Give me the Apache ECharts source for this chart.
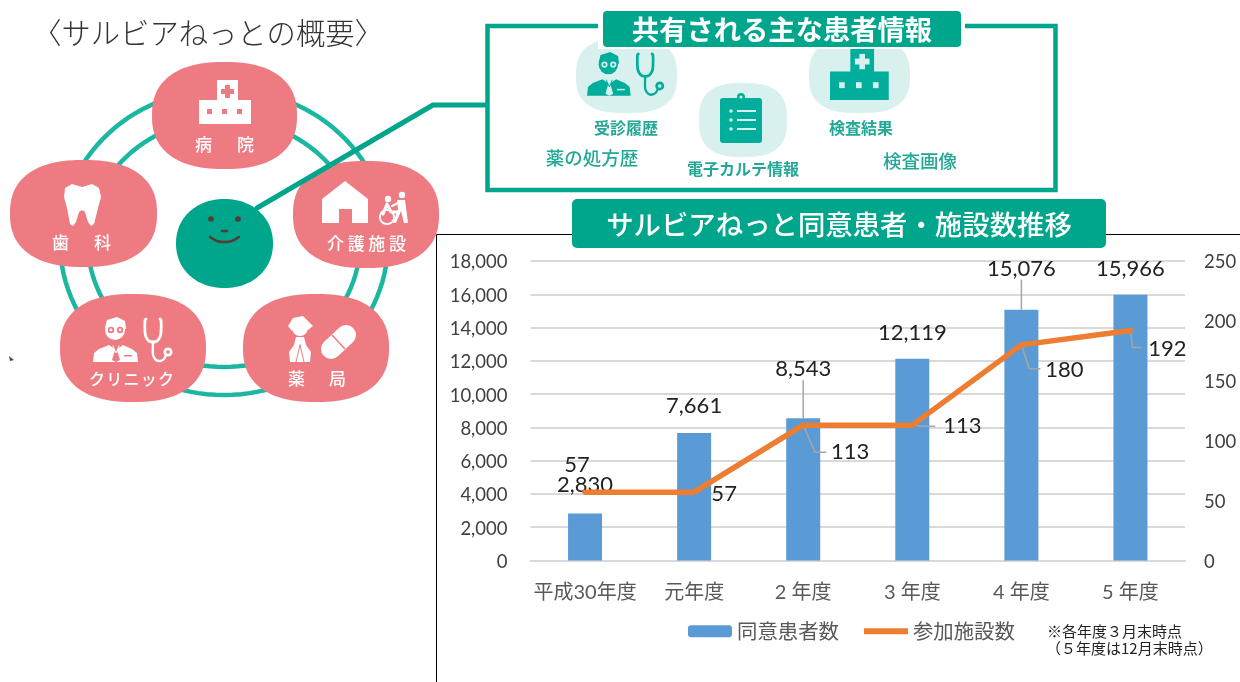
<!DOCTYPE html>
<html><head><meta charset="utf-8">
<style>html,body{margin:0;padding:0;background:#fff}#c{width:1240px;height:682px}</style>
<script src="https://cdn.jsdelivr.net/npm/echarts@6/dist/echarts.min.js"></script>
</head><body><div id="c"></div>
<script>
const categories = ['平成30年度','元年度','2 年度','3 年度','4 年度','5 年度'];
const patients = [2830,7661,8543,12119,15076,15966];
const facilities = [57,57,113,113,180,192];
const patientName = '同意患者数';
const facilityName = '参加施設数';
const patientNudges = [[0,-18],[0,-16],[0,-38],[0,-15],[0,-30],[0,-15]];
const facilityNudges = [[-8,-27],[30,2],[47,27],[50,1],[43,25],[37,18]];
const patientLeader = [false,false,true,false,true,false];
const facilityLeaders = [null,null,[[12,27],[23,27]],[[11,1],[23,1]],[[8,24],[19,24]],[[2,17],[11,17]]];

const JP = '"Noto Sans CJK JP"';
const TEAL = '#00A68C', PINK = '#EE7B82', ICON = '#00AE9B', PALE = '#D9F1EE', TXT = '#22A896';

function blobPts(x,y,w,h,n){
  const pts=[], a=w/2, b=h/2, cx=x+a, cy=y+b;
  for(let i=0;i<120;i++){
    const t=i/120*Math.PI*2, c=Math.cos(t), s=Math.sin(t);
    pts.push([cx+a*Math.sign(c)*Math.pow(Math.abs(c),2/n), cy+b*Math.sign(s)*Math.pow(Math.abs(s),2/n)]);
  }
  return pts;
}
const blob=(x,y,w,h,fill,n)=>({type:'polygon',shape:{points:blobPts(x,y,w,h,n||2.4)},style:{fill}});
const ring=(cx,cy,rx,ry,stroke,lw)=>({type:'polygon',shape:{points:blobPts(cx-rx,cy-ry,2*rx,2*ry,2)},style:{fill:'none',stroke,lineWidth:lw}});
const rect=(x,y,w,h,fill,r)=>({type:'rect',shape:{x,y,width:w,height:h,r:r||0},style:{fill}});
const dot=(cx,cy,r,fill)=>({type:'circle',shape:{cx,cy,r},style:{fill}});
const poly=(points,fill)=>({type:'polygon',shape:{points},style:{fill}});
const pl=(points,stroke,lw,smooth)=>({type:'polyline',shape:{points,smooth:smooth||0},style:{fill:'none',stroke,lineWidth:lw,lineCap:'round',lineJoin:'round'}});
const txt=(text,x,y,size,fill,weight)=>({type:'text',style:{text,x,y,fill,font:(weight||'normal')+' '+size+'px '+JP,textAlign:'center',textVerticalAlign:'middle'}});
function spaced(s,x0,x1,y,size,fill,weight){
  const ch=[...s], step=(x1-x0-size)/(ch.length-1);
  return ch.map((c,i)=>txt(c,x0+size/2+i*step,y,size,fill,weight));
}
function hospitalIcon(x,y,s,sy,fg,bg){
  return {type:'group',x,y,scaleX:s,scaleY:sy,children:[
    rect(18,0,21,21,fg),rect(0,20,52,24,fg),
    rect(26,5,5,13,bg),rect(22,9,13,5,bg),
    rect(8,29,5,5,bg),rect(23,29,5,5,bg),rect(38,29,5,5,bg)]};
}
function doctorIcon(x,y,s,fg,bg){
  return {type:'group',x,y,scaleX:s,scaleY:s,children:[
    poly([[0,45],[1,36],[6,32],[16,28],[23,33],[30,28],[39,32],[44,36],[45,45]],fg),
    dot(22,13,10,fg),poly([[12,11],[14,3],[24,0],[32,4],[33,12]],fg),
    dot(18,13,3.2,bg),dot(27,13,3.2,bg),dot(18,13,1.4,fg),dot(27,13,1.4,fg),
    poly([[20,28],[26,28],[24,33],[27,43],[23,45],[19,43],[22,33]],bg),
    pl([[20,29],[23,36],[26,29]],fg,1),
    rect(31,38,8,1.5,bg),
    pl([[53,2],[52,3],[52,15],[53,20],[56,24],[60,25],[64,24],[67,20],[68,15],[68,3],[67,2]],fg,2.8,0.2),
    pl([[60,25],[60,38],[63,43],[67,44],[71,42],[73,38]],fg,2.4,0.2),
    dot(75,35,4.6,fg),dot(75,35,1.8,bg)]};
}
function blobs(){
  return [blob(152,62,145,107,PINK),blob(10,160,147,107,PINK),blob(293,161,146,107,PINK),
          blob(60,294,146,108,PINK),blob(243,294,146,108,PINK)];
}
const W='#fff';
const graphicEls=[
  ring(224,242,164,153,'#1CB7A0',4.5),
  ring(224,243,136,124,'#1CB7A0',4.5),
  ...blobs(),
  hospitalIcon(199,80,1,1,W,PINK),
  ...spaced('病院',195,254,145,17,W,'500'),
  poly([[72,184],[82,187],[92,184],[99,188],[101,197],[98,208],[94,224],[91,226],[88,222],[85,212],[82,210],[79,212],[76,222],[73,226],[70,224],[67,208],[64,197],[65,188]],W),
  ...spaced('歯科',52,111,243,17,W,'500'),
  poly([[345,181],[368,199],[368,223],[352,223],[352,209],[339,209],[339,223],[322,223],[322,199]],W),
  dot(388,199,3.2,W),dot(402,195,3.2,W),
  pl([[383,214],[387,204],[391,212],[398,212]],W,3),
  ring(387,217,7,7,W,2),
  poly([[397,200],[405,200],[408,223],[404,223],[401,211],[396,223],[393,223],[398,209]],W),
  pl([[392,206],[398,203]],W,2),
  ...spaced('介護施設',327,406,244,17,W,'500'),
  doctorIcon(93,317,1,W,PINK),
  ...spaced('クリニック',89,174,379,16,W,'500'),
  dot(300,328,8,W),
  poly([[288,326],[293,318],[303,316],[313,326],[308,330],[302,323],[295,325],[292,331]],W),
  poly([[296,337],[304,337],[306,345],[311,352],[310,362],[290,362],[289,352],[294,345]],W),
  pl([[300,345],[296,362]],PINK,1),pl([[300,345],[304,362]],PINK,1),
  {type:'line',shape:{x1:331,y1:349,x2:346,y2:335},style:{stroke:W,lineWidth:20,lineCap:'round'}},
  {type:'line',shape:{x1:332,y1:335,x2:345,y2:349},style:{stroke:PINK,lineWidth:1.5}},
  ...spaced('薬局',288,346,379,17,W,'500'),
  blob(176,199,97,89,TEAL,2.1),
  dot(211,219,2.8,'#553B30'),dot(238,219,2.8,'#553B30'),
  pl([[222,231],[227,231]],'#553B30',2.5),
  pl([[210,237],[217,241],[224,242],[232,241],[239,237]],'#553B30',2.5,0.3),
  pl([[257,208],[433,105],[487,105]],TEAL,5),
  // shared information panel
  {type:'rect',shape:{x:487.5,y:26,width:568,height:164},style:{fill:'#fff',stroke:TEAL,lineWidth:4.5}},
  blob(576,38,101,75,PALE,2.7),
  doctorIcon(587,52,0.97,ICON,PALE),
  blob(809,38,101,75,PALE,2.7),
  hospitalIcon(830,48,1.13,1.18,ICON,PALE),
  blob(699,83,88,74,PALE,2.7),
  rect(720,98,42,45,ICON,3),
  dot(741,97,4,ICON),dot(741,97,1.5,PALE),
  dot(731,111,1.8,PALE),dot(731,120,1.8,PALE),dot(731,129,1.8,PALE),
  rect(737,110,19,2,PALE),rect(737,119,19,2,PALE),rect(737,128,19,2,PALE),
  txt('受診履歴',626,128,16,TXT,'bold'),
  txt('薬の処方歴',592,158,18.5,TXT,'500'),
  txt('電子カルテ情報',743,169,16,TXT,'bold'),
  txt('検査結果',861,128,16,TXT,'bold'),
  txt('検査画像',920,161,18.5,TXT,'500'),
  rect(598,9,367,40,W),
  rect(603,11,358,36,TEAL,4),
  txt('共有される主な患者情報',782,30,27.3,W,'bold'),
  // chart frame
  pl([[436.5,682],[436.5,234.5],[572,234.5]],'#000',1),
  pl([[1106,234.5],[1240,234.5]],'#000',1),
  rect(572,199,534,49,TEAL,5),
  txt('サルビアねっと同意患者・施設数推移',839,225,27.4,W,'500'),
  // heading and note
  txt('〈サルビアねっとの概要〉',208,33,29.3,'#333','300'),
  poly([[9,356],[14,360],[10,361]],'#5a4a3a'),
  {type:'text',style:{text:'※各年度３月末時点',x:1047,y:631,fill:'#222',font:'15px '+JP,textVerticalAlign:'middle'}},
  {type:'text',style:{text:'（５年度は12月末時点）',x:1046,y:648,fill:'#222',font:'15px '+JP,textVerticalAlign:'middle'}}
];

const chart=echarts.init(document.getElementById('c'),null,{renderer:'canvas'});
const fmt=v=>Number(v).toLocaleString('en-US');
const numFont='Lato, '+JP;
const leader={show:true,lineStyle:{color:'#A6A6A6',width:1.5}};
function renderLeader(params,api){
  const offs=facilityLeaders[params.dataIndex];
  if(!offs) return;
  const p=api.coord([api.value(0),api.value(1)]);
  return {type:'polyline',shape:{points:[p,...offs.map(o=>[p[0]+o[0],p[1]+o[1]])]},
    style:{fill:'none',stroke:'#A6A6A6',lineWidth:1.5}};
}
chart.setOption({
  animation:false,
  backgroundColor:'#fff',
  textStyle:{fontFamily:numFont},
  grid:{left:530.5,right:55,top:261,bottom:121.5},
  legend:{left:683,top:616,itemWidth:44,itemHeight:12,itemGap:25,symbolKeepAspect:false,
    textStyle:{fontFamily:JP,fontSize:20.4,color:'#595959'},
    data:[patientName,{name:facilityName,icon:'path://M0 0h.01v.01h-.01z M0 25h100v50h-100z M0 99.99h.01v.01h-.01z'}]},
  xAxis:{type:'category',data:categories,
    axisLine:{lineStyle:{color:'#D9D9D9',width:2}},axisTick:{show:false},
    axisLabel:{color:'#595959',fontSize:20,fontFamily:numFont,margin:22,interval:0}},
  yAxis:[
    {type:'value',min:0,max:18000,interval:2000,axisLine:{show:false},axisTick:{show:false},
      splitLine:{lineStyle:{color:'#D9D9D9',width:2}},
      axisLabel:{color:'#404040',fontSize:18.5,fontFamily:numFont,margin:23,verticalAlign:'top',lineHeight:3,formatter:fmt}},
    {type:'value',min:0,max:250,interval:50,axisLine:{show:false},axisTick:{show:false},
      splitLine:{show:false},
      axisLabel:{color:'#404040',fontSize:18.5,fontFamily:numFont,margin:19,verticalAlign:'top',lineHeight:3}}
  ],
  series:[
    {name:patientName,type:'bar',yAxisIndex:0,barWidth:34,z:2,
      itemStyle:{color:'#5B9BD5'},
      data:patients.map((v,i)=>({value:v,labelLine:{show:patientLeader[i]}})),
      label:{show:true,position:'top',distance:0,color:'#222',fontSize:22,fontFamily:numFont,formatter:p=>fmt(p.value)},
      labelLine:leader,
      labelLayout:p=>({dx:patientNudges[p.dataIndex][0],dy:patientNudges[p.dataIndex][1]})},
    {name:'leaders',type:'custom',yAxisIndex:1,z:3,silent:true,
      encode:{x:0,y:1},data:facilities.map((v,i)=>[i,v]),renderItem:renderLeader},
    {name:facilityName,type:'line',yAxisIndex:1,z:4,symbol:'circle',symbolSize:1,showAllSymbol:true,
      lineStyle:{color:'#ED7D31',width:5.5,cap:'round',join:'round'},itemStyle:{color:'#ED7D31'},
      data:facilities,
      label:{show:true,position:'inside',color:'#222',fontSize:22,fontFamily:numFont},
      labelLayout:p=>({dx:facilityNudges[p.dataIndex][0],dy:facilityNudges[p.dataIndex][1]})}
  ],
  graphic:{elements:graphicEls}
});
</script></body></html>
